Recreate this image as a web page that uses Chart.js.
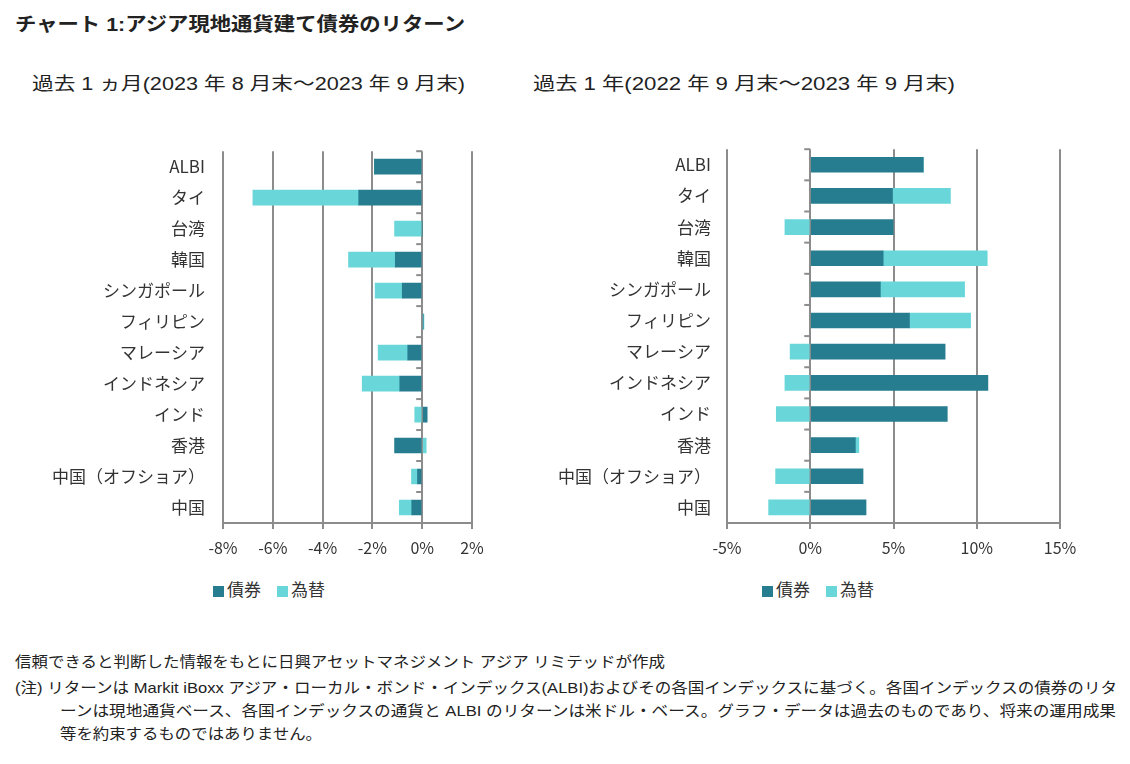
<!DOCTYPE html>
<html>
<head>
<meta charset="utf-8">
<script src="https://cdn.jsdelivr.net/npm/chart.js@4.4.0/dist/chart.umd.min.js"></script>
<style>
  body { margin: 0; background: #fff; width: 1130px; height: 764px; position: relative; overflow: hidden;
         font-family: "Liberation Sans", "Noto Sans CJK JP", sans-serif; color: #222; }
  .txt { position: absolute; white-space: nowrap; transform-origin: 0 50%; line-height: 1; }
  .chartBox { position: absolute; top: 123px; height: 442px; }
  .legend { position: absolute; top: 576px; font-family: "Noto Sans CJK JP", sans-serif; font-size: 17px; color: #333; white-space: nowrap; }
  .legend span.box { display: inline-block; width: 11px; height: 11px; margin-right: 3px; vertical-align: -1px; }
  .legend span.lbl { margin-right: 16px; }
</style>
</head>
<body>
<div class="txt" data-w="450" style="left:15px; top:15px; font-size:19px; font-weight:bold;">チャート 1:アジア現地通貨建て債券のリターン</div>
<div class="txt" data-w="433" style="left:32px; top:75px; font-size:18px;">過去 1 ヵ月(2023 年 8 月末～2023 年 9 月末)</div>
<div class="txt" data-w="422" style="left:533px; top:75px; font-size:18px;">過去 1 年(2022 年 9 月末～2023 年 9 月末)</div>

<div class="chartBox" style="left:0; width:540px;"><canvas id="monthChart"></canvas></div>
<div class="chartBox" style="left:540px; width:560px;"><canvas id="yearChart"></canvas></div>
<div class="legend" id="monthLegend" style="left:213px;"></div>
<div class="legend" id="yearLegend" style="left:762px;"></div>

<div class="txt" data-w="650" style="left:15px; top:654px; font-size:15px;">信頼できると判断した情報をもとに日興アセットマネジメント アジア リミテッドが作成</div>
<div class="txt" data-w="1102" style="left:15px; top:680px; font-size:15px;">(注) リターンは Markit iBoxx アジア・ローカル・ボンド・インデックス(ALBI)およびその各国インデックスに基づく。各国インデックスの債券のリタ</div>
<div class="txt" data-w="1056" style="left:60px; top:703px; font-size:15px;">ーンは現地通貨ベース、各国インデックスの通貨と ALBI のリターンは米ドル・ベース。グラフ・データは過去のものであり、将来の運用成果</div>
<div class="txt" data-w="262" style="left:60px; top:726px; font-size:15px;">等を約束するものではありません。</div>

<script>
// Categories and values (%)
const categories = ['ALBI', 'タイ', '台湾', '韓国', 'シンガポール', 'フィリピン', 'マレーシア', 'インドネシア', 'インド', '香港', '中国（オフショア）', '中国'];
const seriesNames = ['債券', '為替'];

// past 1 month
const monthBond = [-1.92, -2.55, 0, -1.08, -0.80, 0.04, -0.58, -0.90, 0.20, -1.11, -0.19, -0.42];
const monthFx = [0, -4.25, -1.11, -1.88, -1.09, 0.03, -1.19, -1.51, -0.30, 0.16, -0.24, -0.50];
const monthTicks = [-8, -6, -4, -2, 0, 2];

// past 1 year
const yearBond = [6.79, 4.94, 4.98, 4.38, 4.21, 5.96, 8.10, 10.67, 8.23, 2.71, 3.17, 3.35];
const yearFx = [0, 3.48, -1.52, 6.25, 5.06, 3.67, -1.21, -1.52, -2.04, 0.21, -2.08, -2.50];
const yearTicks = [-5, 0, 5, 10, 15];

const darkColor = '#267d8f';
const lightColor = '#69d6d9';
const gridColor = '#8c8c8c';
const labelFont = '"Noto Sans CJK JP", sans-serif';

// squeeze the text lines to the widths they have in the original
document.querySelectorAll('.txt').forEach(function (el) {
    const w = el.getBoundingClientRect().width;
    el.style.transform = 'scaleX(' + (parseFloat(el.dataset.w) / w) + ')';
});

// small tick marks on the zero line, at every category boundary
const zeroTicks = {
    id: 'zeroTicks',
    afterDatasetsDraw(chart) {
        const ctx = chart.ctx;
        const area = chart.chartArea;
        const x0 = chart.scales.x.getPixelForValue(0);
        const step = (area.bottom - area.top) / categories.length;
        ctx.save();
        ctx.strokeStyle = gridColor;
        ctx.lineWidth = 2;
        for (let i = 0; i <= categories.length; i++) {
            const y = area.top + i * step;
            ctx.beginPath();
            ctx.moveTo(x0 - 6, y);
            ctx.lineTo(x0, y);
            ctx.stroke();
        }
        ctx.restore();
    }
};

function renderChart(canvasId, bond, fx, ticks, yWidth, labelPad, padRight) {
    const ctx = document.getElementById(canvasId).getContext('2d');
    return new Chart(ctx, {
        type: 'bar',
        data: {
            labels: categories,
            datasets: [{
                label: seriesNames[0],
                data: bond,
                backgroundColor: darkColor,
                barThickness: 15
            }, {
                label: seriesNames[1],
                data: fx,
                backgroundColor: lightColor,
                barThickness: 15
            }]
        },
        options: {
            indexAxis: 'y',
            animation: false,
            responsive: true,
            maintainAspectRatio: false,
            layout: { padding: { top: 11, right: padRight, bottom: 0, left: 0 } },
            plugins: {
                legend: { display: false },
                tooltip: { enabled: false }
            },
            scales: {
                x: {
                    stacked: true,
                    min: ticks[0],
                    max: ticks[ticks.length - 1],
                    afterBuildTicks: function (scale) {
                        scale.ticks = ticks.map(function (v) { return { value: v }; });
                    },
                    afterFit: function (scale) { scale.height = 42; },
                    grid: { color: gridColor, lineWidth: 2, tickLength: 6, tickColor: gridColor },
                    border: { display: true, color: gridColor, width: 2 },
                    ticks: {
                        padding: 9,
                        color: '#333',
                        font: { family: labelFont, size: 16 },
                        callback: function (v) { return v + '%'; }
                    }
                },
                y: {
                    stacked: true,
                    afterFit: function (scale) { scale.width = yWidth; },
                    grid: { display: false, drawTicks: false },
                    border: { display: false },
                    ticks: {
                        padding: labelPad,
                        color: '#333',
                        font: { family: labelFont, size: 17 }
                    }
                }
            }
        },
        plugins: [zeroTicks]
    });
}

function renderLegend(id, chart) {
    const box = document.getElementById(id);
    chart.data.datasets.forEach(function (ds) {
        box.innerHTML += '<span class="box" style="background:' + ds.backgroundColor + '"></span><span class="lbl">' + ds.label + '</span>';
    });
}

const monthChart = renderChart('monthChart', monthBond, monthFx, monthTicks, 223, 18, 68);
const yearChart = renderChart('yearChart', yearBond, yearFx, yearTicks, 187, 16, 40);
renderLegend('monthLegend', monthChart);
renderLegend('yearLegend', yearChart);
</script>
</body>
</html>
